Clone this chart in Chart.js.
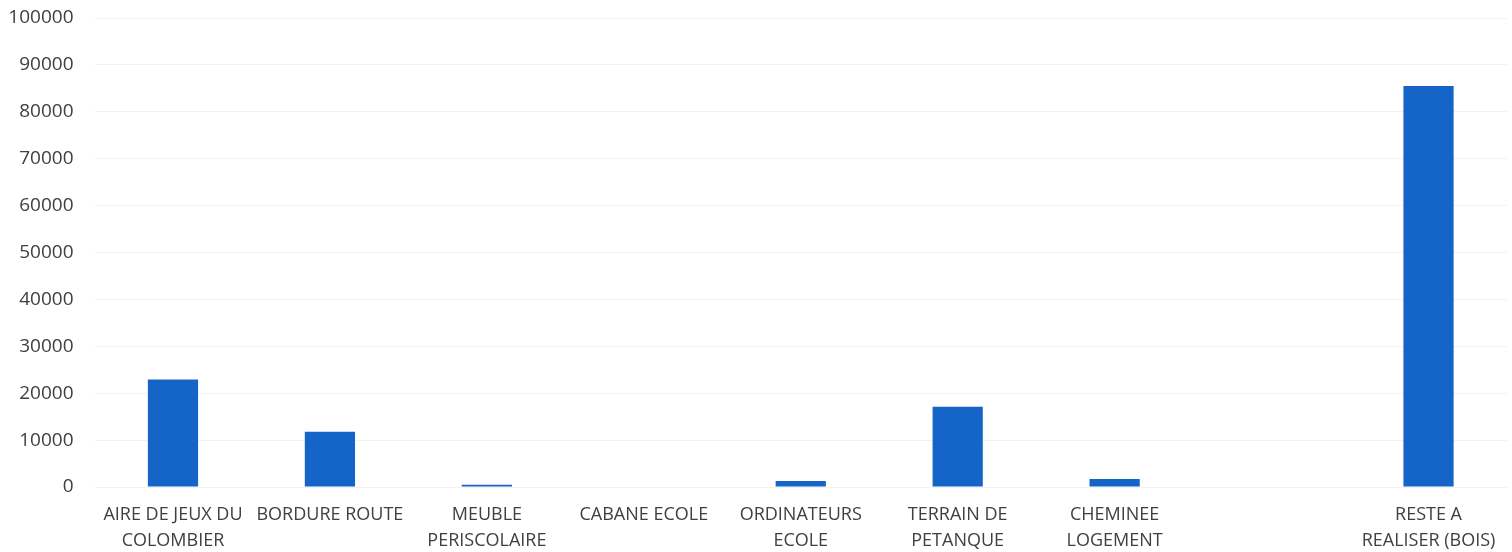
<!DOCTYPE html>
<html><head><meta charset="utf-8">
<script src="https://cdn.jsdelivr.net/npm/chart.js@4/dist/chart.umd.min.js"></script>
<style>html,body{margin:0;padding:0;background:#fff;}#wrap{width:1512px;height:552px;}</style>
</head><body><div id="wrap"><canvas id="c"></canvas></div>
<script>
const categories = [
  ["AIRE DE JEUX DU", "COLOMBIER"],
  "BORDURE ROUTE",
  ["MEUBLE", "PERISCOLAIRE"],
  "CABANE ECOLE",
  ["ORDINATEURS", "ECOLE"],
  ["TERRAIN DE", "PETANQUE"],
  ["CHEMINEE", "LOGEMENT"],
  "",
  ["RESTE A", "REALISER (BOIS)"]
];
const values = [22900, 11800, 500, 0, 1300, 17100, 1700, null, 85500];
const yTicks = [0, 10000, 20000, 30000, 40000, 50000, 60000, 70000, 80000, 90000, 100000];

new Chart(document.getElementById('c'), {
  type: 'bar',
  data: { labels: categories, datasets: [{ data: values, backgroundColor: '#1565c8', barPercentage: 0.64, categoryPercentage: 0.5 }] },
  options: {
    responsive: true, maintainAspectRatio: false, animation: false,
    layout: { padding: { top: 18, right: 5, left: 0, bottom: 0 } },
    plugins: { legend: { display: false }, tooltip: { enabled: false } },
    scales: {
      x: {
        grid: { display: false, drawTicks: false },
        border: { display: false },
        ticks: { color: '#404040', font: { family: 'Open Sans', size: 18, lineHeight: 1.45 }, padding: 15, maxRotation: 0, autoSkip: false },
        afterFit: s => { s.height = 65; s.paddingLeft = 0; s.paddingRight = 0; s.paddingTop = 0; s.paddingBottom = 0; }
      },
      y: {
        min: 0, max: 100000,
        afterBuildTicks: s => { s.ticks = yTicks.map(v => ({ value: v })); },
        grid: { color: '#f2f2f2', drawTicks: false },
        border: { display: false },
        ticks: { color: '#404040', font: { family: 'Open Sans', size: 19 }, padding: 21, callback: v => String(v) },
        afterFit: s => { s.width = 94.5; s.paddingTop = 0; s.paddingBottom = 0; s.paddingLeft = 0; s.paddingRight = 0; }
      }
    }
  }
});
</script></body></html>
